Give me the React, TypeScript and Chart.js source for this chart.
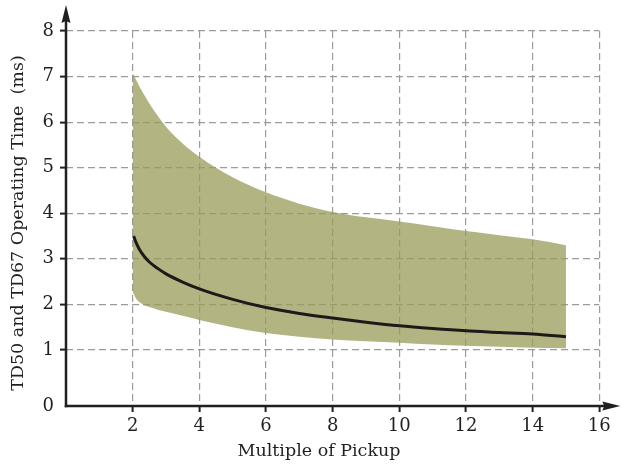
import React, { useEffect, useRef } from 'react';
import { Chart, registerables } from 'chart.js';

Chart.register(...registerables);

// Axis ticks
const xTickValues = [0, 2, 4, 6, 8, 10, 12, 14, 16];
const yTickLabels = ['0', '1', '2', '3', '4', '5', '6', '7', '8'];
const yAxisFloor = -0.23; // where the drawn "0" baseline sits
const yTickValues = [yAxisFloor, 1, 2, 3, 4, 5, 6, 7, 8];

// Band (upper / lower limits)
const upperX = [2, 2.25, 2.5, 2.75, 3, 3.5, 4, 5, 6, 7, 8, 9, 10, 11, 12, 13, 14, 15];
const upperY = [7.08, 6.72, 6.41, 6.14, 5.9, 5.53, 5.24, 4.79, 4.46, 4.21, 4.03, 3.91, 3.82, 3.715, 3.61, 3.52, 3.43, 3.3];
const lowerX = [2, 2.1, 2.2, 2.35, 2.5, 2.75, 3, 3.5, 4, 5, 6, 7, 8, 9, 10, 11, 12, 13, 14, 15];
const lowerY = [2.28, 2.13, 2.05, 1.98, 1.94, 1.885, 1.84, 1.75, 1.66, 1.5, 1.37, 1.29, 1.23, 1.19, 1.16, 1.12, 1.09, 1.07, 1.05, 1.04];

// Typical curve
const midX = [2.03, 2.1, 2.2, 2.35, 2.5, 2.75, 3, 3.5, 4, 5, 6, 7, 8, 9, 10, 11, 12, 13, 14, 15];
const midY = [3.5, 3.36, 3.21, 3.05, 2.93, 2.79, 2.67, 2.49, 2.34, 2.11, 1.93, 1.8, 1.7, 1.61, 1.53, 1.47, 1.42, 1.385, 1.35, 1.29];

const xTitle = 'Multiple of Pickup';
const yTitle = 'TD50 and TD67 Operating Time  (ms)';

const INK = '#231f20';
const GRID = '#9b9b9b';
const FONT = '"DejaVu Serif", serif';

const axesPlugin = {
  id: 'axesArrows',
  afterDraw(chart: any) {
    const { ctx, chartArea } = chart;
    const { left, right, top, bottom } = chartArea;
    ctx.save();
    ctx.strokeStyle = INK;
    ctx.fillStyle = INK;
    ctx.lineWidth = 2.5;
    ctx.setLineDash([]);
    ctx.beginPath();
    ctx.moveTo(left, bottom + 1.25);
    ctx.lineTo(left, top - 10);
    ctx.stroke();
    ctx.beginPath();
    ctx.moveTo(left - 1.25, bottom);
    ctx.lineTo(right + 6, bottom);
    ctx.stroke();
    // y arrow
    ctx.beginPath();
    ctx.moveTo(left, top - 26);
    ctx.lineTo(left - 4.5, top - 8);
    ctx.lineTo(left, top - 10);
    ctx.lineTo(left + 4.5, top - 8);
    ctx.closePath();
    ctx.fill();
    // x arrow
    ctx.beginPath();
    ctx.moveTo(right + 21, bottom);
    ctx.lineTo(right + 3, bottom - 4.5);
    ctx.lineTo(right + 5, bottom);
    ctx.lineTo(right + 3, bottom + 4.5);
    ctx.closePath();
    ctx.fill();
    // titles
    ctx.font = '17.5px ' + FONT;
    ctx.textAlign = 'center';
    ctx.textBaseline = 'middle';
    ctx.fillText(xTitle, 319, 451);
    ctx.translate(18, 223);
    ctx.rotate(-Math.PI / 2);
    ctx.fillText(yTitle, 0, 0);
    ctx.restore();
  },
};

export default function App() {
  const ref = useRef<HTMLCanvasElement | null>(null);

  useEffect(() => {
    if (!ref.current) return;
    const chart = new Chart(ref.current, {
      type: 'line',
      data: {
        datasets: [
          {
            label: 'typical',
            data: midX.map((x, i) => ({ x, y: midY[i] })),
            borderColor: '#1e1a1a',
            borderWidth: 3,
            pointRadius: 0,
            cubicInterpolationMode: 'monotone',
            fill: false,
          },
          {
            label: 'upper',
            data: upperX.map((x, i) => ({ x, y: upperY[i] })),
            borderWidth: 0,
            borderColor: 'rgba(0,0,0,0)',
            backgroundColor: 'rgba(152,155,88,0.75)',
            pointRadius: 0,
            cubicInterpolationMode: 'monotone',
            fill: '+1',
          },
          {
            label: 'lower',
            data: lowerX.map((x, i) => ({ x, y: lowerY[i] })),
            borderWidth: 0,
            borderColor: 'rgba(0,0,0,0)',
            pointRadius: 0,
            cubicInterpolationMode: 'monotone',
            fill: false,
          },
        ],
      },
      options: {
        responsive: false,
        animation: false,
        events: [],
        layout: { padding: { left: 0, top: 31, right: 23.7, bottom: 0 } },
        plugins: { legend: { display: false }, tooltip: { enabled: false } },
        scales: {
          x: {
            type: 'linear',
            min: 0,
            max: 16,
            afterBuildTicks: (scale: any) => {
              scale.ticks = xTickValues.map((v) => ({ value: v }));
            },
            afterFit: (scale: any) => {
              scale.height = 60;
            },
            ticks: {
              callback: (v: any) => (v === 0 ? '' : String(v)),
              font: { family: FONT, size: 18 },
              color: INK,
              padding: 4,
              maxRotation: 0,
              autoSkip: false,
            },
            grid: {
              color: (c: any) => (c.tick && c.tick.value === 0 ? 'rgba(0,0,0,0)' : GRID),
              lineWidth: 1.2,
              tickLength: 6,
              tickColor: (c: any) => (c.tick && c.tick.value === 0 ? 'rgba(0,0,0,0)' : INK),
              tickWidth: 2,
            },
            border: { display: false, dash: [7, 4] },
          },
          y: {
            type: 'linear',
            min: yAxisFloor,
            max: 8,
            afterBuildTicks: (scale: any) => {
              scale.ticks = yTickValues.map((v) => ({ value: v }));
            },
            afterFit: (scale: any) => {
              scale.width = 66;
            },
            ticks: {
              callback: (_v: any, i: number) => yTickLabels[i],
              font: { family: FONT, size: 18 },
              color: INK,
              padding: 6,
              autoSkip: false,
            },
            grid: {
              color: (c: any) => (c.index === 0 ? 'rgba(0,0,0,0)' : GRID),
              lineWidth: 1.2,
              tickLength: 6,
              tickColor: (c: any) => (c.index === 0 ? 'rgba(0,0,0,0)' : INK),
              tickWidth: 2,
            },
            border: { display: false, dash: [7, 4] },
          },
        },
      },
      plugins: [axesPlugin],
    } as any);
    return () => chart.destroy();
  }, []);

  return (
    <div style={{ position: 'absolute', left: 0, top: 0, width: 623, height: 466, background: '#fff' }}>
      <canvas ref={ref} width={623} height={466} />
    </div>
  );
}
